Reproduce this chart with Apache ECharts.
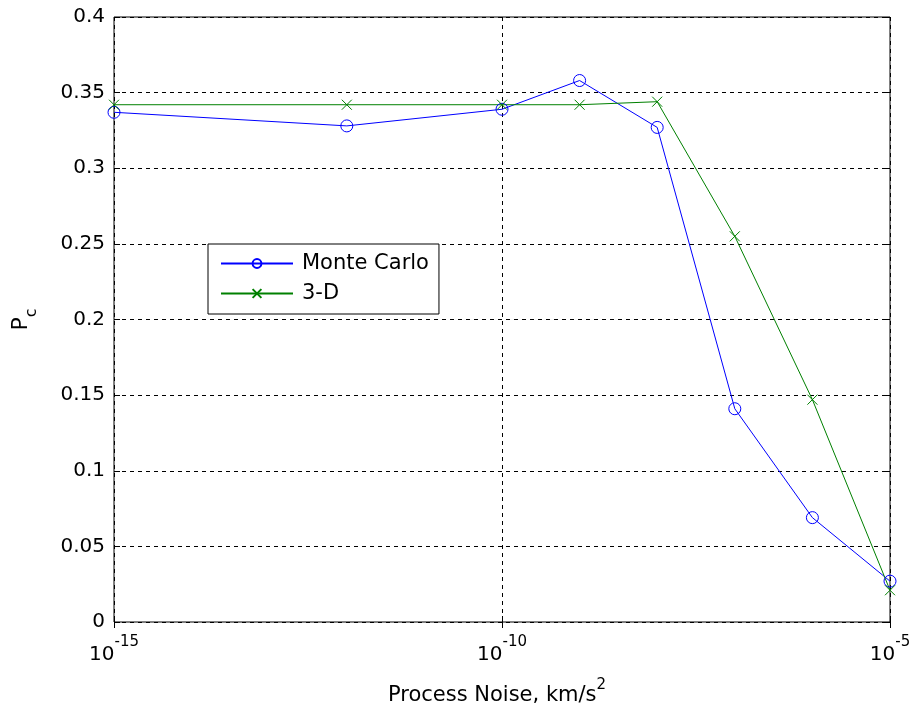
<!DOCTYPE html>
<html>
<head>
<meta charset="utf-8">
<script src="https://cdn.jsdelivr.net/npm/echarts@6/dist/echarts.min.js"></script>
<style>
  html, body { margin: 0; padding: 0; background: #fff; }
  #chart { width: 911px; height: 709px; }
</style>
</head>
<body>
<div id="chart"></div>
<script>
const chart = echarts.init(document.getElementById('chart'), null, { renderer: 'canvas' });

// process noise values (km/s^2)
const noise = [1e-15, 1e-12, 1e-10, 1e-9, 1e-8, 1e-7, 1e-6, 1e-5];
// collision probability
const monteCarlo = [0.337, 0.328, 0.339, 0.358, 0.327, 0.141, 0.069, 0.027];
const threeD = [0.342, 0.342, 0.342, 0.342, 0.344, 0.255, 0.147, 0.021];
const yTicks = { min: 0, max: 0.4, step: 0.05 };

const font = 'DejaVu Sans';
const dashed = { color: '#000', type: [4, 4], width: 1 };

const pairs = (xs, ys) => xs.map((x, i) => [x, ys[i]]);

chart.setOption({
    backgroundColor: '#fff',
    textStyle: { fontFamily: font },
    grid: {
        left: 114, right: 21, top: 17, bottom: 87,
        outerBoundsMode: 'none',
        containLabel: false,
        show: true, borderColor: '#000', borderWidth: 1
    },
    legend: {
        orient: 'vertical',
        left: 208, top: 244,
        backgroundColor: '#fff',
        borderColor: '#000',
        borderWidth: 1,
        padding: [9, 10, 10, 12],
        itemGap: 9,
        itemWidth: 72,
        itemHeight: 11,
        textStyle: { fontFamily: font, fontSize: 21, color: '#000', padding: [0, 0, 0, 4] },
        data: ['Monte Carlo', '3-D']
    },
    xAxis: [{
        type: 'log',
        logBase: 10,
        min: 1e-15,
        max: 1e-5,
        interval: 5,
        splitNumber: 2,
        name: '{a|Process Noise, km/s}{s|2}',
        nameLocation: 'middle',
        nameGap: 56,
        nameTextStyle: {
            padding: [0, 10, 0, 0],
            rich: {
                a: { fontFamily: font, fontSize: 21, color: '#000', lineHeight: 28, verticalAlign: 'bottom' },
                s: { fontFamily: font, fontSize: 15, color: '#000', lineHeight: 28, verticalAlign: 'top' }
            }
        },
        axisLine: { show: false },
        axisTick: { inside: true, length: 6, lineStyle: { color: '#000' } },
        minorTick: { show: false },
        splitLine: { show: true, lineStyle: dashed },
        axisLabel: {
            margin: 13,
            formatter: v => '{b|10}{e|' + Math.round(Math.log10(v)) + '}',
            rich: {
                b: { fontFamily: font, fontSize: 20, color: '#000', lineHeight: 30, verticalAlign: 'bottom' },
                e: { fontFamily: font, fontSize: 15, color: '#000', lineHeight: 30, verticalAlign: 'top' }
            }
        }
    }, {
        type: 'log',
        logBase: 10,
        position: 'top',
        min: 1e-15,
        max: 1e-5,
        interval: 5,
        splitNumber: 2,
        axisLine: { show: false },
        axisTick: { inside: true, length: 6, lineStyle: { color: '#000' } },
        axisLabel: { show: false },
        splitLine: { show: false }
    }],
    yAxis: [{
        type: 'value',
        min: yTicks.min,
        max: yTicks.max,
        interval: yTicks.step,
        name: '{p|P}{c|c}',
        nameLocation: 'middle',
        nameRotate: 90,
        nameGap: 74,
        nameTextStyle: {
            rich: {
                p: { fontFamily: font, fontSize: 22, color: '#000', lineHeight: 30, verticalAlign: 'top' },
                c: { fontFamily: font, fontSize: 16, color: '#000', lineHeight: 30, verticalAlign: 'bottom' }
            }
        },
        axisLine: { show: false },
        axisTick: { inside: true, length: 6, lineStyle: { color: '#000' } },
        splitLine: { show: true, lineStyle: dashed },
        axisLabel: {
            margin: 9,
            fontFamily: font,
            fontSize: 20,
            color: '#000',
            formatter: v => String(+v.toFixed(2))
        }
    }, {
        type: 'value',
        position: 'right',
        min: yTicks.min,
        max: yTicks.max,
        interval: yTicks.step,
        axisLine: { show: false },
        axisTick: { inside: true, length: 6, lineStyle: { color: '#000' } },
        axisLabel: { show: false },
        splitLine: { show: false }
    }],
    series: [{
        name: 'Monte Carlo',
        type: 'line',
        data: pairs(noise, monteCarlo),
        symbol: 'path://M0,5a5,5 0 1,0 10,0a5,5 0 1,0 -10,0z',
        symbolSize: 12,
        color: '#0000ff',
        lineStyle: { width: 1, color: '#0000ff' },
        itemStyle: { color: 'none', borderColor: '#0000ff', borderWidth: 1 }
    }, {
        name: '3-D',
        type: 'line',
        data: pairs(noise, threeD),
        symbol: 'path://M0,0L10,10M10,0L0,10',
        symbolSize: 10,
        color: '#008000',
        lineStyle: { width: 1, color: '#008000' },
        itemStyle: { color: 'none', borderColor: '#008000', borderWidth: 1 }
    }]
});
</script>
</body>
</html>
